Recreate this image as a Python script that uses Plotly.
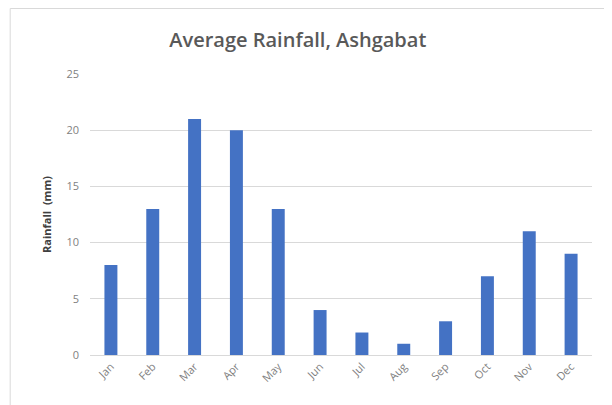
import plotly.graph_objects as go

# --------------------- Data
months = ["Jan", "Feb", "Mar", "Apr", "May", "Jun",
          "Jul", "Aug", "Sep", "Oct", "Nov", "Dec"]
rainfall = [8, 13, 21, 20, 13, 4, 2, 1, 3, 7, 11, 9]
y_ticks = [0, 5, 10, 15, 20, 25]

# --------------------- Figure
fig = go.Figure()
fig.add_trace(go.Bar(x=months, y=rainfall, marker_color="#4472c4",
                     marker_line_width=0))

# Outer chart frame (paper-relative, extends past the plot area)
fig.add_shape(type="rect", xref="paper", yref="paper",
              x0=-0.159, x1=1.03, y0=-0.25, y1=1.233,
              line=dict(color="#d9d9d9", width=1), layer="below")

fig.update_layout(
    width=600, height=405,
    margin=dict(l=82, r=16, t=66, b=58),
    paper_bgcolor="white", plot_bgcolor="white",
    bargap=0.69,
    showlegend=False,
    font=dict(family="Open Sans", color="#595959"),
    title=dict(text="Average Rainfall, Ashgabat", x=0.483, xanchor="center",
               y=0.921, yanchor="middle",
               font=dict(size=20, color="#595959", family="Open Sans", weight=600)),
)
fig.update_xaxes(tickangle=-45, tickfont=dict(size=11, color="#7f7f7f"),
                 showline=True, linecolor="#d9d9d9", ticks="")
fig.update_yaxes(range=[0, 25], tickvals=y_ticks, showgrid=True,
                 gridcolor="#d9d9d9", zeroline=False,
                 tickfont=dict(size=11, color="#7f7f7f"), ticks="",
                 ticklabelstandoff=10,
                 title=dict(text="<b>Rainfall  (mm)</b>", standoff=12,
                            font=dict(size=11, color="#404040")))

fig.write_html("out.html")
